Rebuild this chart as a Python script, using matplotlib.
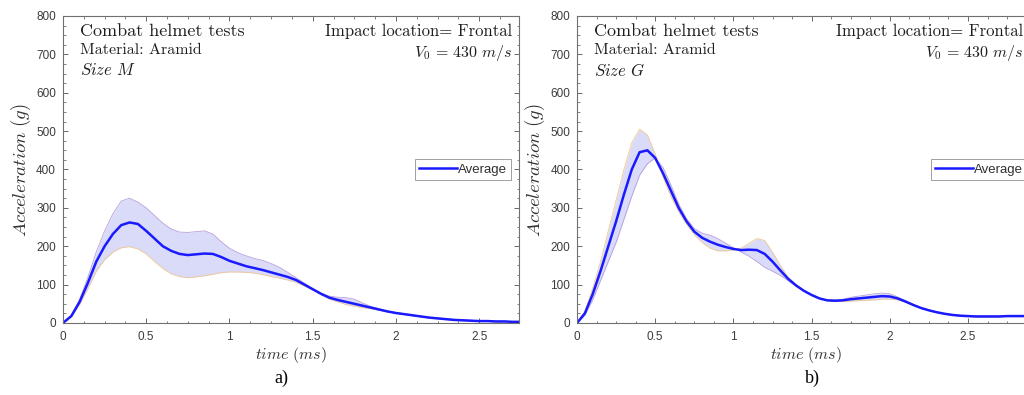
"""Combat helmet tests - acceleration vs time, sizes M and G"""

import numpy as np
import matplotlib.pyplot as plt
from matplotlib.ticker import MultipleLocator

plt.rcParams['mathtext.fontset'] = 'cm'
plt.rcParams['font.family'] = ['Liberation Sans', 'DejaVu Sans']

# time axis (ms)
t_a = np.round(np.arange(0, 2.751, 0.05), 2)
t_b = np.round(np.arange(0, 2.951, 0.05), 2)

# panel a) size M
avg_a = [0, 18, 55, 105, 160, 200, 232, 255, 262, 258, 240, 220, 200, 188, 180, 177,
         179, 181, 180, 172, 162, 155, 148, 143, 138, 132, 126, 120, 112, 100, 88, 76,
         66, 60, 55, 50, 45, 40, 35, 30, 26, 23, 20, 17, 14, 12, 10, 8, 7, 6, 5, 5,
         4, 4, 3, 3]
hi_a = [0, 20, 62, 120, 185, 240, 285, 318, 325, 315, 300, 280, 260, 245, 237, 236,
        238, 240, 232, 212, 195, 183, 175, 168, 163, 155, 145, 132, 118, 104, 90, 78,
        70, 67, 66, 62, 52, 43, 37, 31, 27, 24, 21, 18, 15, 13, 11, 9, 8, 7, 6, 6,
        5, 5, 4, 4]
lo_a = [0, 16, 48, 90, 135, 165, 185, 196, 199, 193, 180, 160, 142, 128, 121, 118,
        120, 123, 127, 131, 133, 133, 132, 130, 126, 121, 117, 112, 106, 96, 86, 74,
        62, 55, 48, 44, 40, 37, 33, 29, 25, 22, 19, 16, 13, 11, 9, 7, 6, 5, 4, 4,
        3, 3, 2, 2]

# panel b) size G
avg_b = [0, 25, 75, 135, 200, 265, 335, 400, 445, 450, 430, 390, 345, 300, 265, 238,
         222, 212, 204, 198, 193, 190, 191, 190, 180, 160, 137, 115, 98, 84, 73, 64,
         59, 58, 59, 62, 64, 66, 68, 70, 69, 64, 56, 47, 39, 33, 28, 24, 21, 19, 18,
         17, 17, 17, 17, 18, 18, 18, 17, 17]
hi_b = [0, 30, 90, 160, 240, 320, 400, 470, 505, 490, 440, 380, 330, 290, 258, 230,
        210, 195, 188, 188, 190, 195, 208, 220, 215, 185, 150, 120, 100, 84, 72, 63,
        58, 56, 56, 57, 58, 59, 60, 62, 62, 60, 54, 46, 38, 32, 27, 23, 20, 18, 17,
        16, 16, 16, 16, 17, 17, 17, 16, 16]
lo_b = [0, 20, 60, 110, 160, 210, 270, 330, 385, 415, 430, 405, 360, 310, 272, 246,
        234, 229, 220, 208, 196, 185, 174, 160, 145, 135, 124, 110, 96, 84, 74, 65,
        60, 60, 62, 67, 70, 73, 76, 78, 76, 68, 58, 48, 40, 34, 29, 25, 22, 20, 19,
        18, 18, 18, 18, 19, 19, 19, 18, 18]

BAND = '#dadaf9'
ORANGE = '#f0c890'
PURPLE = '#b8a0dc'
BLUE = '#1a1aff'
GRAY = '#505050'
TXT = '#1e1e1e'


def draw_panel(ax, t, avg, c1, c2, size, xmax, xr=0.985):
    ax.fill_between(t, c1, c2, color=BAND, lw=0)
    ax.plot(t, c1, color=ORANGE, lw=0.6)
    ax.plot(t, c2, color=PURPLE, lw=0.6)
    ax.plot(t, avg, color=BLUE, lw=1.8, label='Average')

    ax.set_xlim(0, xmax)
    ax.set_ylim(0, 800)
    ax.xaxis.set_minor_locator(MultipleLocator(0.125))
    ax.yaxis.set_major_locator(MultipleLocator(100))
    ax.yaxis.set_minor_locator(MultipleLocator(25))
    ax.set_xticks([0, 0.5, 1, 1.5, 2, 2.5])
    ax.set_xticklabels(['0', '0.5', '1', '1.5', '2', '2.5'])
    ax.tick_params(which='both', direction='in', top=True, right=True,
                   color=GRAY, labelcolor='#3c3c3c', labelsize=8.5)
    ax.tick_params(axis='x', pad=6)
    ax.tick_params(axis='y', pad=5)
    ax.tick_params(which='major', length=3.5, width=0.6)
    ax.tick_params(which='minor', length=1.8, width=0.5)
    for s in ax.spines.values():
        s.set_color('#707070')
        s.set_linewidth(0.8)

    ax.set_xlabel(r'$time\ (ms)$', fontsize=11.5, color='#303030', labelpad=1)
    ax.set_ylabel(r'$Acceleration\ (g)$', fontsize=13.5, color='#303030', labelpad=2)

    ax.text(0.037, 0.975, 'Combat helmet tests', transform=ax.transAxes,
            fontsize=13, family='cmr10', va='top', ha='left', color=TXT)
    ax.text(0.037, 0.912, 'Material: Aramid', transform=ax.transAxes,
            fontsize=11.5, family='cmr10', va='top', ha='left', color=TXT)
    ax.text(0.037, 0.850, r'$Size\ %s$' % size, transform=ax.transAxes,
            fontsize=12, va='top', ha='left', color=TXT)
    ax.text(xr, 0.975, 'Impact location= Frontal', transform=ax.transAxes,
            fontsize=12, family='cmr10', va='top', ha='right', color=TXT)
    ax.text(xr, 0.912, r'$V_0\,=\,430\ m/s$', transform=ax.transAxes,
            fontsize=11.5, va='top', ha='right', color=TXT)

    leg = ax.legend(loc='center right', fontsize=9.5, handlelength=2.9,
                    handletextpad=0.1, borderpad=0.3, fancybox=False, framealpha=1,
                    borderaxespad=0.6)
    leg.get_frame().set_edgecolor('#909090')
    leg.get_frame().set_linewidth(0.6)
    for txt in leg.get_texts():
        txt.set_color('#303030')


def main():
    fig = plt.figure(figsize=(10.24, 3.95), dpi=100)
    ax1 = fig.add_axes([0.0615, 0.1823, 0.4455, 0.7772])
    ax2 = fig.add_axes([0.5635, 0.1823, 0.4475, 0.7772])

    draw_panel(ax1, t_a, avg_a, lo_a, hi_a, 'M', 2.74)
    draw_panel(ax2, t_b, avg_b, hi_b, lo_b, 'G', 2.93, xr=0.974)

    fig.text(0.275, 0.043, 'a)', fontsize=13, family='Liberation Serif',
             ha='center', va='center')
    fig.text(0.793, 0.043, 'b)', fontsize=13, family='Liberation Serif',
             ha='center', va='center')

    fig.savefig('out.png', dpi=100)


if __name__ == '__main__':
    main()
